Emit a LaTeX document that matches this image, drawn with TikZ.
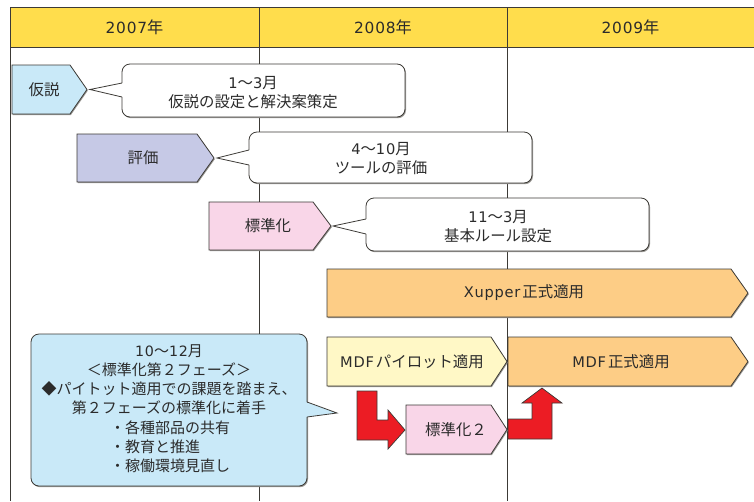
\documentclass[tikz,border=0pt]{standalone}
\usepackage{fontspec}
\setmainfont{Noto Sans CJK JP}
\newfontfamily\latfont{DejaVu Sans}[Scale=0.95,LetterSpace=5]
\newcommand{\ltn}[1]{{\latfont #1}}
\definecolor{hdr}{HTML}{FFDD4C}
\definecolor{linec}{HTML}{3C3A36}
\definecolor{txtc}{HTML}{2B2B2B}
\definecolor{cblue}{HTML}{C9E9F8}
\definecolor{clav}{HTML}{C6C9E6}
\definecolor{cpink}{HTML}{F9D6E8}
\definecolor{corange}{HTML}{FDCD86}
\definecolor{cpaley}{HTML}{FFF8C6}
\definecolor{cred}{HTML}{EC1C24}
\definecolor{shadowc}{HTML}{9A9894}
\newcommand{\mypent}[6]{%
  \fill[shadowc] (#1+0.8,#2+1.2) -- (#3+0.8,#2+1.2) -- (#4+0.8,{(#2+#5)/2+1.2}) -- (#3+0.8,#5+1.2) -- (#1+0.8,#5+1.2) -- cycle;
  \filldraw[fill=#6, draw=linec, line width=0.8pt] (#1,#2) -- (#3,#2) -- (#4,{(#2+#5)/2}) -- (#3,#5) -- (#1,#5) -- cycle;}
\begin{document}
\begin{tikzpicture}[x=1pt,y=-1pt,
  txt/.style={font=\fontsize{15.4}{19.5}\selectfont, text=txtc, inner sep=0pt, align=center},
  gridline/.style={draw=linec, line width=0.9pt},
  calloutbox/.style={draw=linec, line width=0.8pt, rounded corners=8pt},
  redarrow/.style={fill=cred, draw=linec, line width=0.7pt, line join=miter}]
\useasboundingbox (0,0) rectangle (754,501);
% header
\fill[hdr] (10,7.5) rectangle (754,47);
\draw[linec, line width=1.5pt] (10,7.5) -- (754,7.5);
\draw[linec, line width=1pt] (10,47) -- (754,47);
\draw[gridline] (10,7) -- (10,501);
\draw[gridline] (259,7.5) -- (259,501);
\draw[gridline] (507,7.5) -- (507,501);
\node[txt, font=\fontsize{16.2}{19.5}\selectfont] (y2007) at (134.5,27.5) {\ltn{2007}年};
\node[txt, font=\fontsize{16.2}{19.5}\selectfont] (y2008) at (383,27.5) {\ltn{2008}年};
\node[txt, font=\fontsize{16.2}{19.5}\selectfont] (y2009) at (630.5,27.5) {\ltn{2009}年};

% 仮説
\mypent{12}{65}{70}{87}{114}{cblue}
\node[txt] (kasetsu) at (44,89.5) {仮説};
\fill[shadowc, rounded corners=8pt] (123,65.2) rectangle (406,118.2);
\filldraw[fill=white, calloutbox] (122,64) rectangle (405,117);
\fill[white] (123,83) -- (90,89.5) -- (123,97) -- cycle;
\draw[linec, line width=0.8pt] (122,83) -- (90,89.5) -- (122,97);
\node[txt] (c1) at (253,92.5) {\ltn{1}〜\ltn{3}月\\仮説の設定と解決案策定};

% 評価
\mypent{77}{134}{197}{214}{182}{clav}
\node[txt] (hyoka) at (143,158) {評価};
\fill[shadowc, rounded corners=8pt] (250,133.2) rectangle (533,184.2);
\filldraw[fill=white, calloutbox] (249,132) rectangle (532,183);
\fill[white] (250,150) -- (217,158) -- (250,165) -- cycle;
\draw[linec, line width=0.8pt] (249,150) -- (217,158) -- (249,165);
\node[txt] (c2) at (381,158.5) {\ltn{4}〜\ltn{10}月\\ツールの評価};

% 標準化
\mypent{209}{202}{313}{331}{250}{cpink}
\node[txt] (hyojun) at (268,226) {標準化};
\fill[shadowc, rounded corners=8pt] (367,199.2) rectangle (650,252.2);
\filldraw[fill=white, calloutbox] (366,198) rectangle (649,251);
\fill[white] (367,219) -- (333,226) -- (367,234) -- cycle;
\draw[linec, line width=0.8pt] (366,219) -- (333,226) -- (366,234);
\node[txt] (c3) at (498,226.5) {\ltn{11}〜\ltn{3}月\\基本ルール設定};

% Xupper
\mypent{327}{269}{731}{748}{317}{corange}
\node[txt] (xupper) at (524,293) {\ltn{Xupper}\kern2pt 正式適用};

% MDF
\mypent{327}{337}{491}{507}{386}{cpaley}
\node[txt] (pilot) at (412,361.5) {\ltn{MDF}\kern2pt パイロット適用};
\mypent{508}{337}{731}{748}{386}{corange}
\node[txt] (mdf) at (621,361.5) {\ltn{MDF}\kern2pt 正式適用};

% 標準化2
\mypent{406}{405}{491}{507}{454}{cpink}
\node[txt] (hyojun2) at (456,430) {標準化２};

% red arrows
\filldraw[redarrow] (357,391) -- (377,391) -- (377,420) -- (388,420) -- (388,410) -- (405,430) -- (388,449) -- (388,440) -- (357,440) -- cycle;
\filldraw[redarrow] (508,419) -- (532,419) -- (532,403) -- (522,403) -- (542,388) -- (562,403) -- (552,403) -- (552,439) -- (508,439) -- cycle;

% big callout
\fill[shadowc, rounded corners=8pt] (32,335.2) rectangle (308,487.2);
\filldraw[fill=cblue, calloutbox] (31,334) rectangle (307,486);
\fill[cblue] (306,402) -- (337,413) -- (306,417) -- cycle;
\draw[linec, line width=0.8pt] (307,402) -- (337,413) -- (307,417);
\node[txt, font=\fontsize{15}{19}\selectfont] (phase2) at (169,380) {\ltn{10}〜\ltn{12}月\\＜標準化第２フェーズ＞\\◆パイトット適用での課題を踏まえ、\\第２フェーズの標準化に着手};
\node[txt, font=\fontsize{15}{19}\selectfont, align=left, anchor=west] (items) at (110,447) {・各種部品の共有\\・教育と推進\\・稼働環境見直し};
\end{tikzpicture}
\end{document}
